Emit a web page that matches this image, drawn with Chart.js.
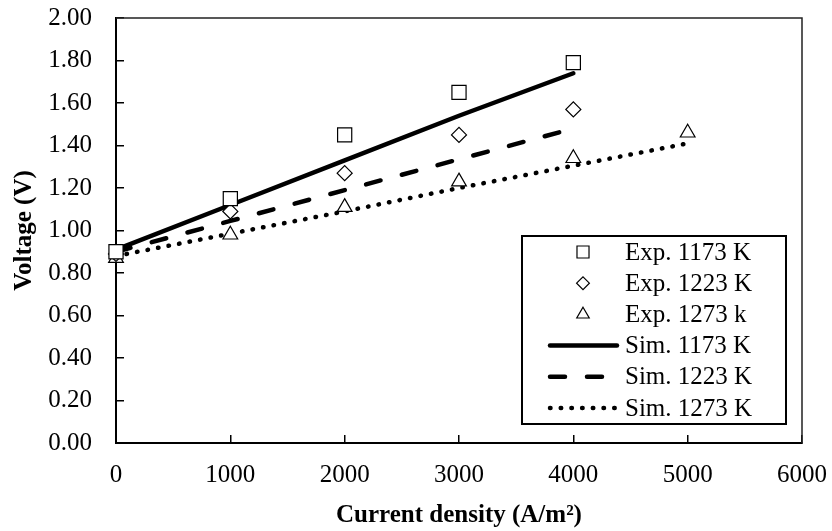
<!DOCTYPE html>
<html>
<head>
<meta charset="utf-8">
<script src="https://cdn.jsdelivr.net/npm/chart.js@4.4.1/dist/chart.umd.min.js"></script>
<style>
  body { margin: 0; background: #fff; }
  #wrap { width: 832px; height: 531px; }
</style>
</head>
<body>
<div id="wrap"><canvas id="chart" width="832" height="531"></canvas></div>
<script>
// datos
var densidad = [0, 1000, 2000, 3000, 4000, 5000];
var exp1173 = [0.90, 1.15, 1.45, 1.65, 1.79];
var exp1223 = [0.89, 1.09, 1.27, 1.45, 1.57];
var exp1273 = [0.87, 0.98, 1.11, 1.23, 1.34, 1.46];
var sim1173 = [0.91, 1.12, 1.33, 1.54, 1.74];
var sim1223 = [0.90, 1.045, 1.19, 1.335, 1.48];
var sim1273 = [0.88, 0.985, 1.09, 1.20, 1.305, 1.41];
var etiquetas = ["Exp. 1173 K", "Exp. 1223 K", "Exp. 1273 k", "Sim. 1173 K", "Sim. 1223 K", "Sim. 1273 K"];

var fuente = '"Liberation Serif", "Times New Roman", serif';
var tam = 25;

function puntos(ys) {
    return ys.map(function(y, i){ return {x: densidad[i], y: y}; });
}

function experimental(label, ys, estilo, radio) {
    return {
        label: label, data: puntos(ys), showLine: false,
        pointStyle: estilo, pointRadius: radio, pointHoverRadius: radio,
        pointBackgroundColor: "#fff", pointBorderColor: "#000", pointBorderWidth: 1.2,
        order: 0, clip: false
    };
}

function simulado(label, ys, dash) {
    return {
        label: label, data: puntos(ys), showLine: true,
        borderColor: "#000", borderWidth: 4.5, borderDash: dash, borderCapStyle: "round",
        pointRadius: 0, pointHoverRadius: 0, order: 1, clip: false
    };
}

// marco superior/derecho
var marco = {
    id: "marco",
    beforeDatasetsDraw: function(chart) {
        var ctx = chart.ctx, a = chart.chartArea;
        ctx.save();
        ctx.strokeStyle = "#222";
        ctx.lineWidth = 1.5;
        ctx.beginPath();
        ctx.moveTo(a.left, a.top);
        ctx.lineTo(a.right, a.top);
        ctx.lineTo(a.right, a.bottom);
        ctx.stroke();
        ctx.restore();
    }
};

// leyenda dentro del area
var leyenda = {
    id: "leyenda",
    afterDatasetsDraw: function(chart) {
        var ctx = chart.ctx, a = chart.chartArea;
        var w = 264, fila = 31.2, h = 188;
        var x0 = a.right - 16 - w, y0 = a.bottom - 19 - h;
        ctx.save();
        ctx.fillStyle = "#fff";
        ctx.fillRect(x0, y0, w, h);
        ctx.lineWidth = 2;
        ctx.strokeStyle = "#000";
        ctx.strokeRect(x0, y0, w, h);
        chart.data.datasets.forEach(function(ds, i){
            var cy = y0 + 16 + i * fila;
            if (ds.showLine) {
                ctx.beginPath();
                ctx.lineWidth = ds.borderWidth;
                ctx.lineCap = ds.borderCapStyle;
                ctx.setLineDash(ds.borderDash || []);
                ctx.strokeStyle = "#000";
                ctx.moveTo(x0 + 28, cy);
                ctx.lineTo(x0 + 95, cy);
                ctx.stroke();
                ctx.setLineDash([]);
            } else {
                ctx.lineWidth = ds.pointBorderWidth;
                ctx.strokeStyle = "#000";
                ctx.fillStyle = "#fff";
                Chart.helpers.drawPoint(ctx, {
                    pointStyle: ds.pointStyle, rotation: 0,
                    radius: ds.pointRadius * 0.85, borderWidth: ds.pointBorderWidth
                }, x0 + 61, cy);
            }
            ctx.fillStyle = "#000";
            ctx.font = tam + "px " + fuente;
            ctx.textBaseline = "middle";
            ctx.textAlign = "left";
            ctx.fillText(ds.label, x0 + 103, cy + 1);
        });
        ctx.restore();
    }
};

var canvas = document.getElementById("chart").getContext("2d");
window.grafico = new Chart(canvas, {
    type: "scatter",
    data: {
        datasets: [
            experimental(etiquetas[0], exp1173, "rect", 10),
            experimental(etiquetas[1], exp1223, "rectRot", 7.5),
            experimental(etiquetas[2], exp1273, "triangle", 8.5),
            simulado(etiquetas[3], sim1173, []),
            simulado(etiquetas[4], sim1223, [15, 22]),
            simulado(etiquetas[5], sim1273, [0.5, 10.2])
        ]
    },
    options: {
        responsive: false,
        animation: false,
        layout: { padding: { left: 0, right: 30, top: 18, bottom: 0 } },
        plugins: {
            legend: { display: false },
            tooltip: { enabled: false }
        },
        scales: {
            x: {
                type: "linear", min: 0, max: 6000,
                afterFit: function(s){ s.height = 88; s.paddingLeft = 0; s.paddingRight = 0; },
                ticks: {
                    stepSize: 1000, color: "#000", padding: 25, font: { family: fuente, size: tam },
                    callback: function(v){ return String(v); }
                },
                grid: { drawOnChartArea: false, drawTicks: true, tickLength: -8, color: "#000", lineWidth: 1.5 },
                border: { display: true, color: "#000", width: 2 },
                title: {
                    display: true, text: "Current density (A/m²)", color: "#000",
                    font: { family: fuente, size: tam, weight: "bold" }, padding: { top: 0, bottom: 0 }
                }
            },
            y: {
                min: 0, max: 2,
                afterFit: function(s){ s.width = 116; s.paddingTop = 0; s.paddingBottom = 0; },
                ticks: {
                    stepSize: 0.2, color: "#000", padding: 32, font: { family: fuente, size: tam },
                    callback: function(v){ return v.toFixed(2); }
                },
                grid: { drawOnChartArea: false, drawTicks: true, tickLength: -8, color: "#000", lineWidth: 1.5 },
                border: { display: true, color: "#000", width: 2 },
                title: {
                    display: true, text: "Voltage (V)", color: "#000",
                    font: { family: fuente, size: tam, weight: "bold" }, padding: { top: 10, bottom: 0 }
                }
            }
        }
    },
    plugins: [marco, leyenda]
});
</script>
</body>
</html>
